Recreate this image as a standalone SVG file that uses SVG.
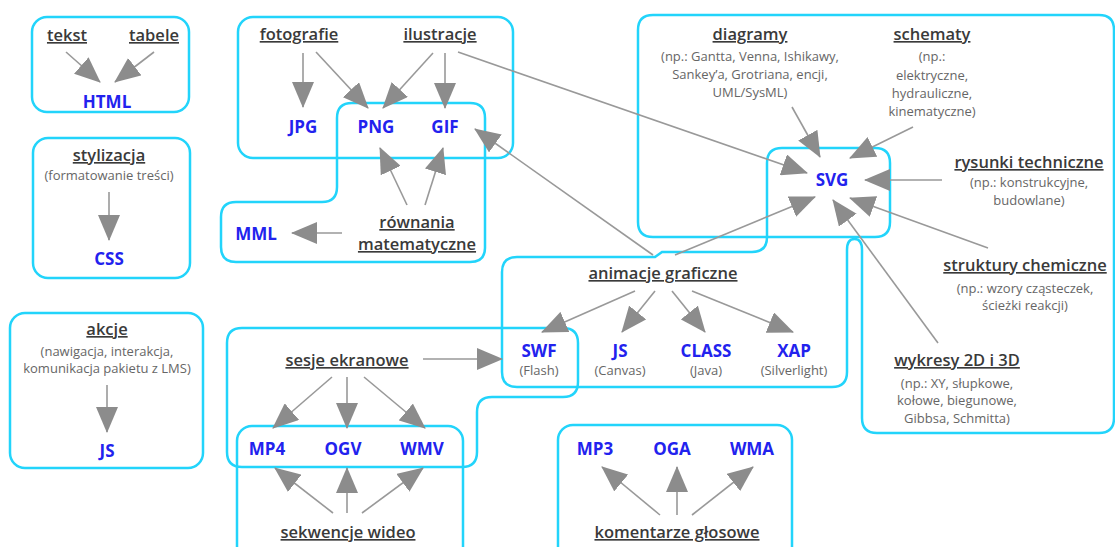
<svg xmlns="http://www.w3.org/2000/svg" width="1115" height="547" viewBox="0 0 1115 547">
<defs>
<marker id="ah" markerUnits="userSpaceOnUse" markerWidth="26" markerHeight="22" refX="25" refY="11" orient="auto">
<path d="M0,0 L26,11 L0,22 Z" fill="#8c8c8c"/>
</marker>
<style>
.box{fill:none;stroke:#22d4fb;stroke-width:2.5}
.c{stroke:#999;stroke-width:1.6;fill:none;marker-end:url(#ah)}
text{font-family:"Open Sans","Noto Sans","DejaVu Sans",sans-serif;text-anchor:middle}
.l{font-size:16.5px;font-weight:600;fill:#3a3a3a;text-decoration:underline}
.s{font-size:13px;fill:#666}
.b{font-size:17px;font-weight:700;fill:#2222ee}
</style>
</defs>
<rect width="1115" height="547" fill="#fff"/>
<g id="boxes">
<rect class="box" x="32" y="17" width="157" height="95" rx="15"/>
<rect class="box" x="33" y="138" width="157" height="140" rx="15"/>
<rect class="box" x="10" y="313" width="193" height="155" rx="15"/>
<rect class="box" x="238" y="17" width="275" height="141" rx="15"/>
<path class="box" d="M352,103 H470 Q485,103 485,118 V248 Q485,262 470,262 H236 Q221,262 221,247 V217 Q221,202 236,202 H322 Q337,202 337,187 V118 Q337,103 352,103 Z"/>
<path class="box" d="M653,15 H1099 Q1114,15 1114,30 V418 Q1114,433 1099,433 H877 Q862,433 862,418 V250 Q862,239 854.5,239 Q847,239 847,250 V372 Q847,387 832,387 H517 Q502,387 502,372 V272 Q502,257 517,257 H655 L662,252 H752 Q767,252 767,237 H653 Q638,237 638,222 V30 Q638,15 653,15 Z"/>
<path class="box" d="M767,237 V163 Q767,148 782,148 H875 Q890,148 890,163 V222 Q890,237 875,237 H767"/>
<path class="box" d="M242,328 H563 Q578,328 578,343 V382 Q578,397 563,397 H492 Q477,397 477,412 V452 Q477,467 462,467 H242 Q227,467 227,452 V343 Q227,328 242,328 Z"/>
<rect class="box" x="237" y="426" width="226" height="150" rx="15"/>
<rect class="box" x="558" y="425" width="234" height="150" rx="15"/>
</g>
<g id="connectors">
<line class="c" x1="66" y1="52" x2="100" y2="82"/>
<line class="c" x1="154" y1="52" x2="115" y2="82"/>
<line class="c" x1="109" y1="192" x2="109" y2="240"/>
<line class="c" x1="107" y1="385" x2="107" y2="432"/>
<line class="c" x1="303" y1="53" x2="303" y2="107"/>
<line class="c" x1="316" y1="52" x2="368" y2="108"/>
<line class="c" x1="433" y1="53" x2="383" y2="108"/>
<line class="c" x1="445" y1="53" x2="445" y2="108"/>
<line class="c" x1="458" y1="52" x2="807" y2="173"/>
<line class="c" x1="407" y1="205" x2="380" y2="148"/>
<line class="c" x1="425" y1="205" x2="443" y2="148"/>
<line class="c" x1="342" y1="233" x2="292" y2="233"/>
<line class="c" x1="792" y1="107" x2="820" y2="157"/>
<line class="c" x1="913" y1="127" x2="850" y2="158"/>
<line class="c" x1="942" y1="180" x2="865" y2="180"/>
<line class="c" x1="675" y1="255" x2="815" y2="197"/>
<line class="c" x1="988" y1="248" x2="850" y2="198"/>
<line class="c" x1="938" y1="343" x2="833" y2="200"/>
<line class="c" x1="653" y1="255" x2="475" y2="129"/>
<line class="c" x1="635" y1="291" x2="542" y2="332"/>
<line class="c" x1="655" y1="291" x2="622" y2="332"/>
<line class="c" x1="672" y1="291" x2="705" y2="332"/>
<line class="c" x1="692" y1="291" x2="793" y2="332"/>
<line class="c" x1="423" y1="359" x2="502" y2="359"/>
<line class="c" x1="332" y1="377" x2="273" y2="428"/>
<line class="c" x1="347" y1="377" x2="347" y2="428"/>
<line class="c" x1="364" y1="377" x2="425" y2="428"/>
<line class="c" x1="333" y1="513" x2="275" y2="468"/>
<line class="c" x1="347" y1="513" x2="347" y2="468"/>
<line class="c" x1="362" y1="513" x2="423" y2="468"/>
<line class="c" x1="660" y1="515" x2="602" y2="467"/>
<line class="c" x1="677" y1="515" x2="677" y2="467"/>
<line class="c" x1="692" y1="515" x2="753" y2="467"/>
</g>
<g id="n-tekst"><text class="l" x="67" y="41">tekst</text></g>
<g id="n-tabele"><text class="l" x="154" y="41">tabele</text></g>
<g id="n-html"><text class="b" x="107" y="108">HTML</text></g>
<g id="n-stylizacja"><text class="l" x="109" y="161">stylizacja</text><text class="s" x="109" y="180">(formatowanie treści)</text></g>
<g id="n-css"><text class="b" x="109" y="265">CSS</text></g>
<g id="n-akcje"><text class="l" x="107" y="335">akcje</text><text class="s" x="107" y="356">(nawigacja, interakcja,</text><text class="s" x="107" y="373">komunikacja pakietu z LMS)</text></g>
<g id="n-js1"><text class="b" x="107" y="457">JS</text></g>
<g id="n-fotografie"><text class="l" x="299" y="40">fotografie</text></g>
<g id="n-ilustracje"><text class="l" x="440" y="40">ilustracje</text></g>
<g id="n-jpg"><text class="b" x="303" y="133">JPG</text></g>
<g id="n-png"><text class="b" x="376" y="133">PNG</text></g>
<g id="n-gif"><text class="b" x="445" y="133">GIF</text></g>
<g id="n-rownania"><text class="l" x="417" y="228">równania</text><text class="l" x="417" y="250">matematyczne</text></g>
<g id="n-mml"><text class="b" x="256" y="240">MML</text></g>
<g id="n-diagramy"><text class="l" x="750" y="40">diagramy</text><text class="s" x="750" y="61">(np.: Gantta, Venna, Ishikawy,</text><text class="s" x="750" y="79">Sankey’a, Grotriana, encji,</text><text class="s" x="750" y="97">UML/SysML)</text></g>
<g id="n-schematy"><text class="l" x="932" y="40">schematy</text><text class="s" x="932" y="61">(np.:</text><text class="s" x="932" y="80">elektryczne,</text><text class="s" x="932" y="98">hydrauliczne,</text><text class="s" x="932" y="116">kinematyczne)</text></g>
<g id="n-svg"><text class="b" x="832" y="186">SVG</text></g>
<g id="n-rysunki"><text class="l" x="1029" y="168">rysunki techniczne</text><text class="s" x="1029" y="187">(np.: konstrukcyjne,</text><text class="s" x="1029" y="205">budowlane)</text></g>
<g id="n-struktury"><text class="l" x="1025" y="271">struktury chemiczne</text><text class="s" x="1025" y="293">(np.: wzory cząsteczek,</text><text class="s" x="1025" y="310">ścieżki reakcji)</text></g>
<g id="n-wykresy"><text class="l" x="957" y="366">wykresy 2D i 3D</text><text class="s" x="957" y="388">(np.: XY, słupkowe,</text><text class="s" x="957" y="405">kołowe, biegunowe,</text><text class="s" x="957" y="423">Gibbsa, Schmitta)</text></g>
<g id="n-animacje"><text class="l" x="663" y="279">animacje graficzne</text></g>
<g id="n-swf"><text class="b" x="539" y="357">SWF</text><text class="s" x="539" y="375">(Flash)</text></g>
<g id="n-js2"><text class="b" x="620" y="357">JS</text><text class="s" x="620" y="375">(Canvas)</text></g>
<g id="n-class"><text class="b" x="706" y="357">CLASS</text><text class="s" x="706" y="375">(Java)</text></g>
<g id="n-xap"><text class="b" x="794" y="357">XAP</text><text class="s" x="794" y="375">(Silverlight)</text></g>
<g id="n-sesje"><text class="l" x="347" y="366">sesje ekranowe</text></g>
<g id="n-mp4"><text class="b" x="267" y="455">MP4</text></g>
<g id="n-ogv"><text class="b" x="343" y="455">OGV</text></g>
<g id="n-wmv"><text class="b" x="422" y="455">WMV</text></g>
<g id="n-sekwencje"><text class="l" x="348" y="538">sekwencje wideo</text></g>
<g id="n-mp3"><text class="b" x="595" y="455">MP3</text></g>
<g id="n-oga"><text class="b" x="672" y="455">OGA</text></g>
<g id="n-wma"><text class="b" x="752" y="455">WMA</text></g>
<g id="n-komentarze"><text class="l" x="677" y="538">komentarze głosowe</text></g>
</svg>
